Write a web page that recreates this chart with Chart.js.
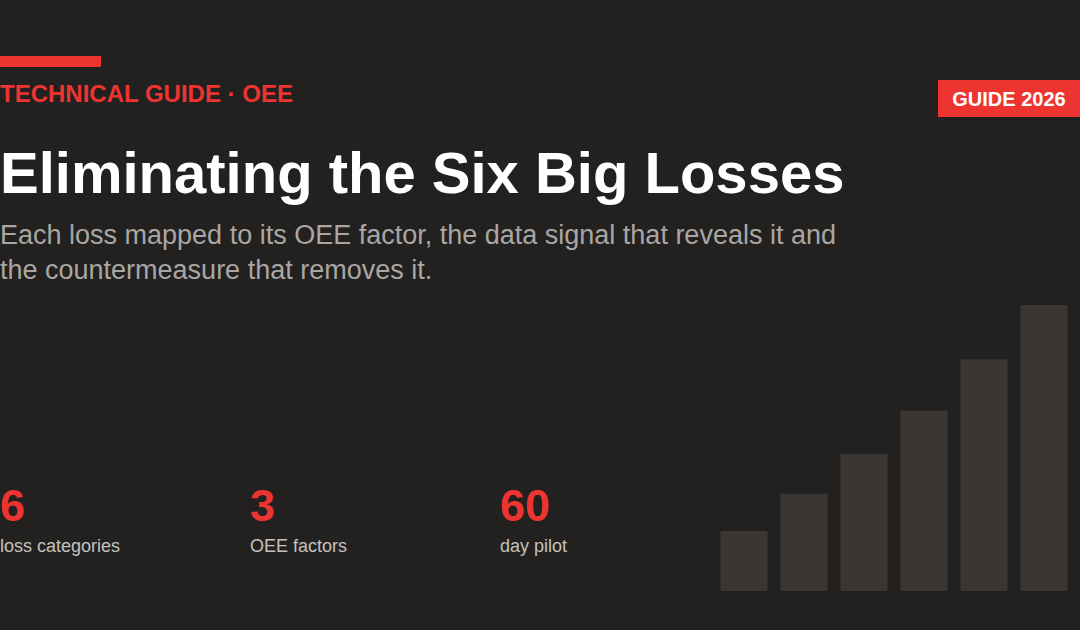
<!DOCTYPE html>
<html>
<head>
<meta charset="utf-8">
<script src="https://cdn.jsdelivr.net/npm/chart.js@4/dist/chart.umd.min.js"></script>
<style>
  html, body { margin: 0; padding: 0; }
  body {
    width: 1080px; height: 630px; overflow: hidden; position: relative;
    background: #222120; font-family: "Liberation Sans", Arial, sans-serif;
  }
  .accent { position: absolute; left: 0; top: 56px; width: 101px; height: 11px; background: #ee3430; }
  .kicker { position: absolute; left: 0; top: 80px; font-size: 24px; font-weight: bold; color: #ee3430; }
  .badge {
    position: absolute; left: 938px; top: 80px; width: 142px; height: 37px;
    background: #ee3430; color: #fff; font-weight: bold; font-size: 20px;
    line-height: 38px; text-align: center;
  }
  h1 { position: absolute; left: 0; top: 140px; margin: 0; font-size: 58px; line-height: 66px; color: #fff; font-weight: bold; }
  .sub { position: absolute; left: 0; top: 218px; width: 880px; font-size: 27px; line-height: 35px; color: #a9a6a3; }
  .stat { position: absolute; top: 480px; }
  .stat .num { font-size: 45px; font-weight: bold; color: #ee3430; line-height: 52px; }
  .stat .lbl { font-size: 18px; color: #c4c1be; margin-top: 4px; }
  #wrap { position: absolute; left: 714px; top: 305px; width: 360px; height: 286px; }
</style>
</head>
<body>
<div class="accent"></div>
<div class="kicker">TECHNICAL GUIDE · OEE</div>
<div class="badge">GUIDE 2026</div>
<h1>Eliminating the Six Big Losses</h1>
<div class="sub">Each loss mapped to its OEE factor, the data signal that reveals it and the countermeasure that removes it.</div>
<div class="stat" style="left:0"><div class="num">6</div><div class="lbl">loss categories</div></div>
<div class="stat" style="left:250px"><div class="num">3</div><div class="lbl">OEE factors</div></div>
<div class="stat" style="left:500px"><div class="num">60</div><div class="lbl">day pilot</div></div>
<div id="wrap"><canvas id="bars"></canvas></div>
<script>
// decorative rising bars, heights as % of the tallest
const barLabels = ["1", "2", "3", "4", "5", "6"];
const barValues = [21, 34, 48, 63, 81, 100];
const BAR_COLOR = "#3a3633";

new Chart(document.getElementById("bars"), {
  type: "bar",
  data: {
    labels: barLabels,
    datasets: [{
      data: barValues,
      backgroundColor: BAR_COLOR,
      borderWidth: 0,
      barPercentage: 0.783,
      categoryPercentage: 1,
    }],
  },
  options: {
    responsive: true,
    maintainAspectRatio: false,
    animation: false,
    layout: { padding: 0 },
    plugins: { legend: { display: false }, tooltip: { enabled: false } },
    scales: {
      x: { display: false, grid: { display: false } },
      y: { display: false, min: 0, max: 100, grid: { display: false } },
    },
  },
});
</script>
</body>
</html>
